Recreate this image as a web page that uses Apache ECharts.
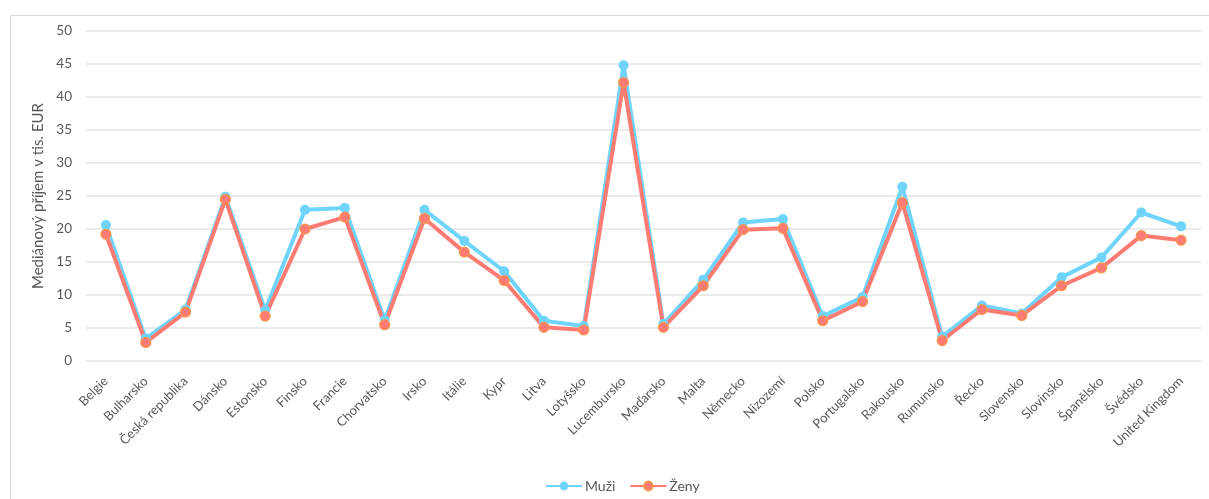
<!DOCTYPE html>
<html>
<head>
<meta charset="utf-8">
<script src="https://cdn.jsdelivr.net/npm/echarts@6/dist/echarts.min.js"></script>
<style>
  html, body { margin: 0; padding: 0; background: #ffffff; }
  #chart { width: 1209px; height: 499px; }
</style>
</head>
<body>
<div id="chart"></div>
<script>
// Medián příjmu podle pohlaví v zemích EU (tis. EUR)
const countries = [
  'Belgie', 'Bulharsko', 'Česká republika', 'Dánsko', 'Estonsko', 'Finsko',
  'Francie', 'Chorvatsko', 'Irsko', 'Itálie', 'Kypr', 'Litva', 'Lotyšsko',
  'Lucembursko', 'Maďarsko', 'Malta', 'Německo', 'Nizozemí', 'Polsko',
  'Portugalsko', 'Rakousko', 'Rumunsko', 'Řecko', 'Slovensko', 'Slovinsko',
  'Španělsko', 'Švédsko', 'United Kingdom'
];
const muzi = [
  20.6, 3.4, 7.8, 24.9, 7.7, 22.9, 23.2, 6.2, 22.9, 18.2, 13.6, 6.1, 5.3,
  44.8, 5.6, 12.3, 21.0, 21.5, 6.8, 9.7, 26.4, 3.7, 8.4, 7.2, 12.7, 15.7,
  22.5, 20.4
];
const zeny = [
  19.2, 2.8, 7.4, 24.5, 6.8, 20.0, 21.8, 5.5, 21.6, 16.5, 12.2, 5.1, 4.7,
  42.2, 5.1, 11.4, 19.9, 20.1, 6.1, 9.0, 24.0, 3.1, 7.8, 6.9, 11.4, 14.1,
  19.0, 18.3
];
const yTicks = { min: 0, max: 50, interval: 5 };

const textFont = 'Lato, "Open Sans", sans-serif';
const textColor = '#595959';

const chart = echarts.init(document.getElementById('chart'), null, { renderer: 'canvas' });
chart.setOption({
  backgroundColor: '#ffffff',
  animation: false,
  textStyle: { fontFamily: textFont, color: textColor },
  graphic: [{
    type: 'rect',
    left: 8, top: 13,
    shape: { width: 1220, height: 510 },
    style: { fill: 'none', stroke: '#d9d9d9', lineWidth: 1 },
    silent: true
  }],
  grid: { left: 86, right: 8, top: 31, bottom: 138 },
  legend: {
    top: 474,
    left: 540,
    itemWidth: 36,
    itemHeight: 11,
    itemGap: 14,
    textStyle: { fontFamily: textFont, fontSize: 14, color: textColor, padding: [0, 0, 0, -2] },
    data: ['Muži', 'Ženy']
  },
  xAxis: {
    type: 'category',
    data: countries,
    boundaryGap: true,
    axisLine: { show: false },
    axisTick: { show: false },
    axisLabel: {
      rotate: 45,
      interval: 0,
      margin: 18,
      fontFamily: textFont,
      fontSize: 13,
      color: textColor
    }
  },
  yAxis: {
    type: 'value',
    min: yTicks.min,
    max: yTicks.max,
    interval: yTicks.interval,
    name: 'Mediánový příjem v tis. EUR',
    nameLocation: 'middle',
    nameGap: 36,
    nameTextStyle: { fontFamily: textFont, fontSize: 15, color: textColor },
    axisLine: { show: false },
    axisTick: { show: false },
    axisLabel: { margin: 14, fontFamily: textFont, fontSize: 13.5, color: textColor },
    splitLine: { lineStyle: { color: '#e3e3e3', width: 1.5 } }
  },
  series: [
    {
      name: 'Muži',
      type: 'line',
      data: muzi,
      symbol: 'circle',
      symbolSize: 10,
      lineStyle: { color: '#6fd4fb', width: 4 },
      itemStyle: { color: '#6fd4fb', borderColor: '#6fd4fb', borderWidth: 0 }
    },
    {
      name: 'Ženy',
      type: 'line',
      data: zeny,
      symbol: 'circle',
      symbolSize: 10,
      lineStyle: { color: '#fd7b72', width: 4 },
      itemStyle: { color: '#fd7b72', borderColor: '#f59a4e', borderWidth: 1.2 }
    }
  ]
});
</script>
</body>
</html>
